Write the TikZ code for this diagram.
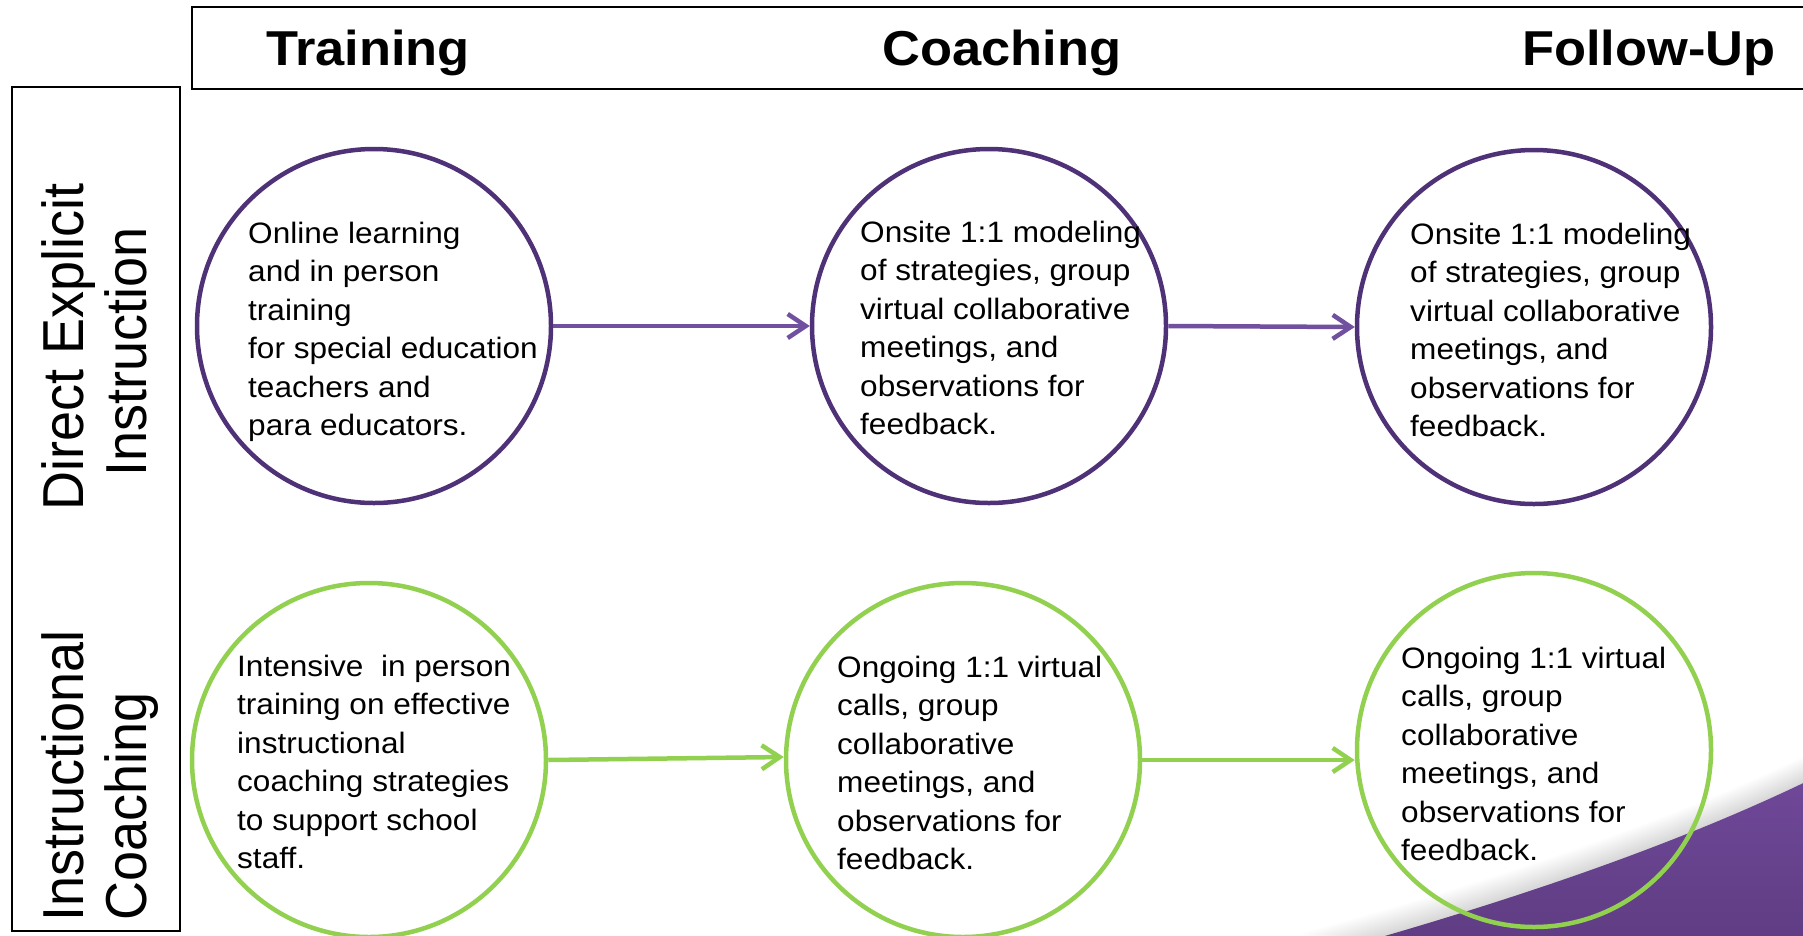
\documentclass[tikz,border=0pt]{standalone}
\usepackage{fontspec}
\setmainfont{Liberation Sans}
\newfontfamily\bodyfont[FakeStretch=1.07]{Liberation Sans}
\usetikzlibrary{arrows.meta}
\definecolor{cpurple}{HTML}{4F3177}
\definecolor{apurple}{HTML}{7150A0}
\definecolor{cgreen}{HTML}{92D050}
\definecolor{swtop}{HTML}{70499A}
\definecolor{swbot}{HTML}{5D3B80}
\begin{document}
\begin{tikzpicture}[x=1pt,y=-1pt,
  ring/.style={circle, line width=4.5pt, minimum size=354pt, inner sep=0pt},
  pring/.style={ring, draw=cpurple},
  gring/.style={ring, draw=cgreen},
  bodytext/.style={anchor=base west, align=left, inner sep=0pt,
    font=\bodyfont\fontsize{29.5}{38.5}\selectfont},
  headtext/.style={anchor=base, inner sep=0pt,
    font=\bodyfont\bfseries\fontsize{49}{55}\selectfont},
  sidetext/.style={rotate=90, yscale=1.07, inner sep=0pt,
    font=\fontsize{54}{60}\selectfont},
  parrow/.style={draw=apurple, line width=4.5pt, -{Straight Barb[length=18pt,width=24pt]}},
  garrow/.style={draw=cgreen, line width=4.5pt, -{Straight Barb[length=18pt,width=24pt]}}
]
\useasboundingbox (0,0) rectangle (1803,935);
\clip (0,0) rectangle (1803,935);
\fill[white] (0,0) rectangle (1803,935);

% purple swoosh with soft shadow
\foreach \d in {2,4,...,26}{
  \fill[black, opacity=0.013] (1300,960-\d) .. controls (1500,905-\d) and (1680,845-\d) .. (1830,770-\d) -- (1830,960) -- cycle;
}
\shade[top color=swtop, bottom color=swbot] (1300,960) .. controls (1500,905) and (1680,845) .. (1830,770) -- (1830,960) -- cycle;

% frames
\draw[line width=2pt] (192,7) rectangle (1830,89);
\draw[line width=1.5pt] (12,87) rectangle (180,931);

% headers
\node[headtext] (h1) at (368,65) {Training};
\node[headtext] (h2) at (1002,65) {Coaching};
\node[headtext] (h3) at (1649,65) {Follow-Up};

% side labels
\node[sidetext, anchor=base] (s1) at (83,347) {Direct Explicit};
\node[sidetext, anchor=base] (s2) at (146,352) {Instruction};
\node[sidetext, anchor=base west] (s3) at (83,922) {Instructional};
\node[sidetext, anchor=base west] (s4) at (146,921) {Coaching};

% circles
\node[pring] (c1) at (374,326) {};
\node[pring] (c2) at (989,326) {};
\node[pring] (c3) at (1534,327) {};
\node[gring] (c4) at (369,760) {};
\node[gring] (c5) at (963,760) {};
\node[gring] (c6) at (1534,750) {};

% texts (anchored at the baseline of the last line)
\node[bodytext] (t1) at (248,435.5) {Online learning\\and in person\\training\\for special education\\teachers and\\para educators.};
\node[bodytext] (t2) at (860,434.5) {Onsite 1:1 modeling\\of strategies, group\\virtual collaborative\\meetings, and\\observations for\\feedback.};
\node[bodytext] (t3) at (1410,436.5) {Onsite 1:1 modeling\\of strategies, group\\virtual collaborative\\meetings, and\\observations for\\feedback.};
\node[bodytext] (t4) at (237,868.5) {Intensive~ in person\\training on effective\\instructional\\coaching strategies\\to support school\\staff.};
\node[bodytext] (t5) at (837,869.5) {Ongoing 1:1 virtual\\calls, group\\collaborative\\meetings, and\\observations for\\feedback.};
\node[bodytext] (t6) at (1401,860.5) {Ongoing 1:1 virtual\\calls, group\\collaborative\\meetings, and\\observations for\\feedback.};

% connectors
\draw[parrow] (c1.east) -- (c2.west);
\draw[parrow] (c2.east) -- (c3.west);
\draw[garrow] (c4.east) -- ([yshift=3pt]c5.west);
\draw[garrow] (c5.east) -- (c5.east -| c6.west);
\end{tikzpicture}
\end{document}
